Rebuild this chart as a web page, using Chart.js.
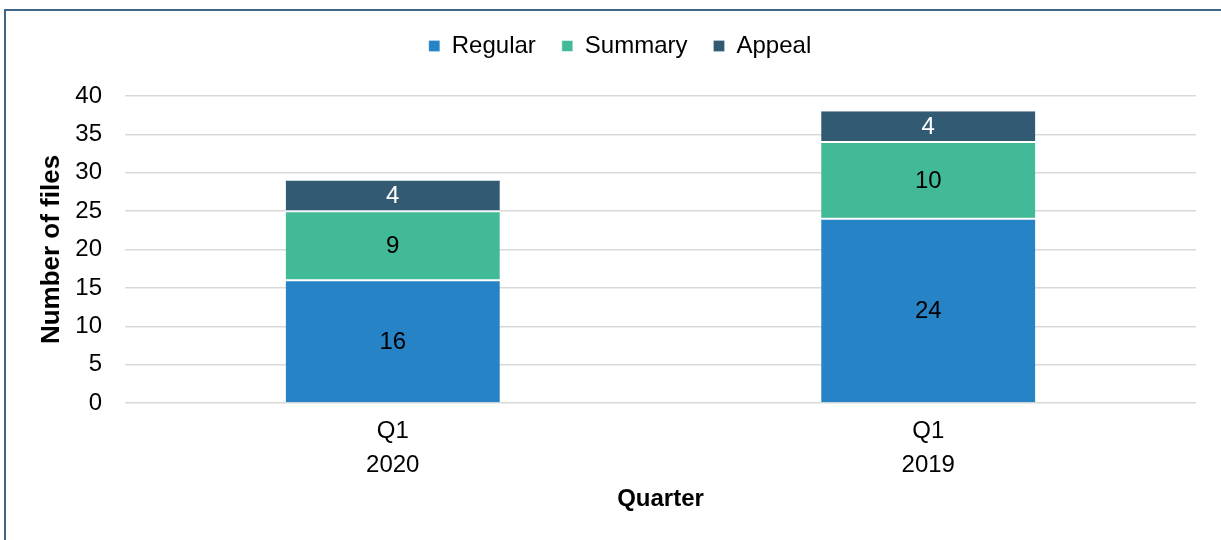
<!DOCTYPE html>
<html>
<head>
<meta charset="utf-8">
<script src="https://cdn.jsdelivr.net/npm/chart.js@4"></script>
<style>
  html, body { margin: 0; padding: 0; background: #fff; overflow: hidden; }
  #wrap { position: relative; width: 1221px; height: 540px; }
  #frame { position: absolute; left: 4px; top: 9px; width: 1400px; height: 700px;
           border-top: 2px solid #3d6688; border-left: 2px solid #3d6688; box-sizing: border-box; }
  canvas { position: absolute; left: 0; top: 0; }
</style>
</head>
<body>
<div id="wrap">
  <div id="frame"></div>
  <canvas id="c" width="1221" height="540"></canvas>
</div>
<script>
const categories = [['Q1', '2020'], ['Q1', '2019']];
const regular = [16, 24];
const summary = [9, 10];
const appeal = [4, 4];
const yMin = 0, yMax = 40, yStep = 5;

const FONT = "'Liberation Sans', Arial, sans-serif";

const legendSize = {
  id: 'legendSize',
  beforeLayout(chart) {
    const lg = chart.legend;
    if (lg && !lg._patched) {
      const orig = lg.fit;
      lg.fit = function () { orig.call(this); this.height = 88; };
      lg._patched = true;
    }
  },
  afterLayout(chart) {
    const lg = chart.legend;
    if (lg) { lg.left += 22; lg.right += 22; }
  }
};

const valueLabels = {
  id: 'valueLabels',
  afterDatasetsDraw(chart) {
    const ctx = chart.ctx;
    const colors = ['#000000', '#000000', '#ffffff'];
    ctx.save();
    ctx.font = '24px ' + FONT;
    ctx.textAlign = 'center';
    ctx.textBaseline = 'middle';
    chart.data.datasets.forEach((ds, i) => {
      const meta = chart.getDatasetMeta(i);
      meta.data.forEach((el, j) => {
        ctx.fillStyle = colors[i];
        ctx.fillText(String(ds.data[j]), el.x, (el.y + el.base) / 2 + 1);
      });
    });
    ctx.restore();
  }
};

new Chart(document.getElementById('c'), {
  type: 'bar',
  data: {
    labels: categories,
    datasets: [
      { label: 'Regular', data: regular, backgroundColor: '#2683c6', borderColor: '#ffffff',
        borderWidth: { top: 1, bottom: 0, left: 0, right: 0 }, borderSkipped: false },
      { label: 'Summary', data: summary, backgroundColor: '#43ba97', borderColor: '#ffffff',
        borderWidth: { top: 1, bottom: 1, left: 0, right: 0 }, borderSkipped: false },
      { label: 'Appeal', data: appeal, backgroundColor: '#335a73', borderColor: '#ffffff',
        borderWidth: { top: 0, bottom: 1, left: 0, right: 0 }, borderSkipped: false }
    ]
  },
  options: {
    responsive: false,
    animation: false,
    devicePixelRatio: 1,
    barPercentage: 0.4,
    categoryPercentage: 1.0,
    layout: { padding: { left: 0, right: 25, top: 8, bottom: 0 } },
    plugins: {
      legend: {
        position: 'top',
        labels: {
          font: { family: FONT, size: 24 },
          color: '#000',
          boxWidth: 11,
          boxHeight: 11,
          padding: 26
        }
      },
      tooltip: { enabled: false }
    },
    scales: {
      x: {
        stacked: true,
        grid: { display: false, drawTicks: false },
        border: { display: false },
        ticks: { font: { family: FONT, size: 24, lineHeight: 1.417 }, color: '#000', padding: 11 },
        title: { display: true, text: 'Quarter', color: '#000',
                 font: { family: FONT, size: 24, weight: 'bold' }, padding: { top: 0, bottom: 26 } },
        afterFit(s) { s.height = 137; }
      },
      y: {
        stacked: true,
        min: yMin, max: yMax,
        grid: { color: '#d9d9d9', lineWidth: 1.5, drawTicks: false },
        border: { display: false },
        ticks: { stepSize: yStep, font: { family: FONT, size: 24 }, color: '#000', padding: 23 },
        title: { display: true, text: 'Number of files', color: '#000',
                 font: { family: FONT, size: 26, weight: 'bold' }, padding: { top: 36, bottom: 0 } },
        afterFit(s) { s.width = 125; }
      }
    }
  },
  plugins: [legendSize, valueLabels]
});
</script>
</body>
</html>
